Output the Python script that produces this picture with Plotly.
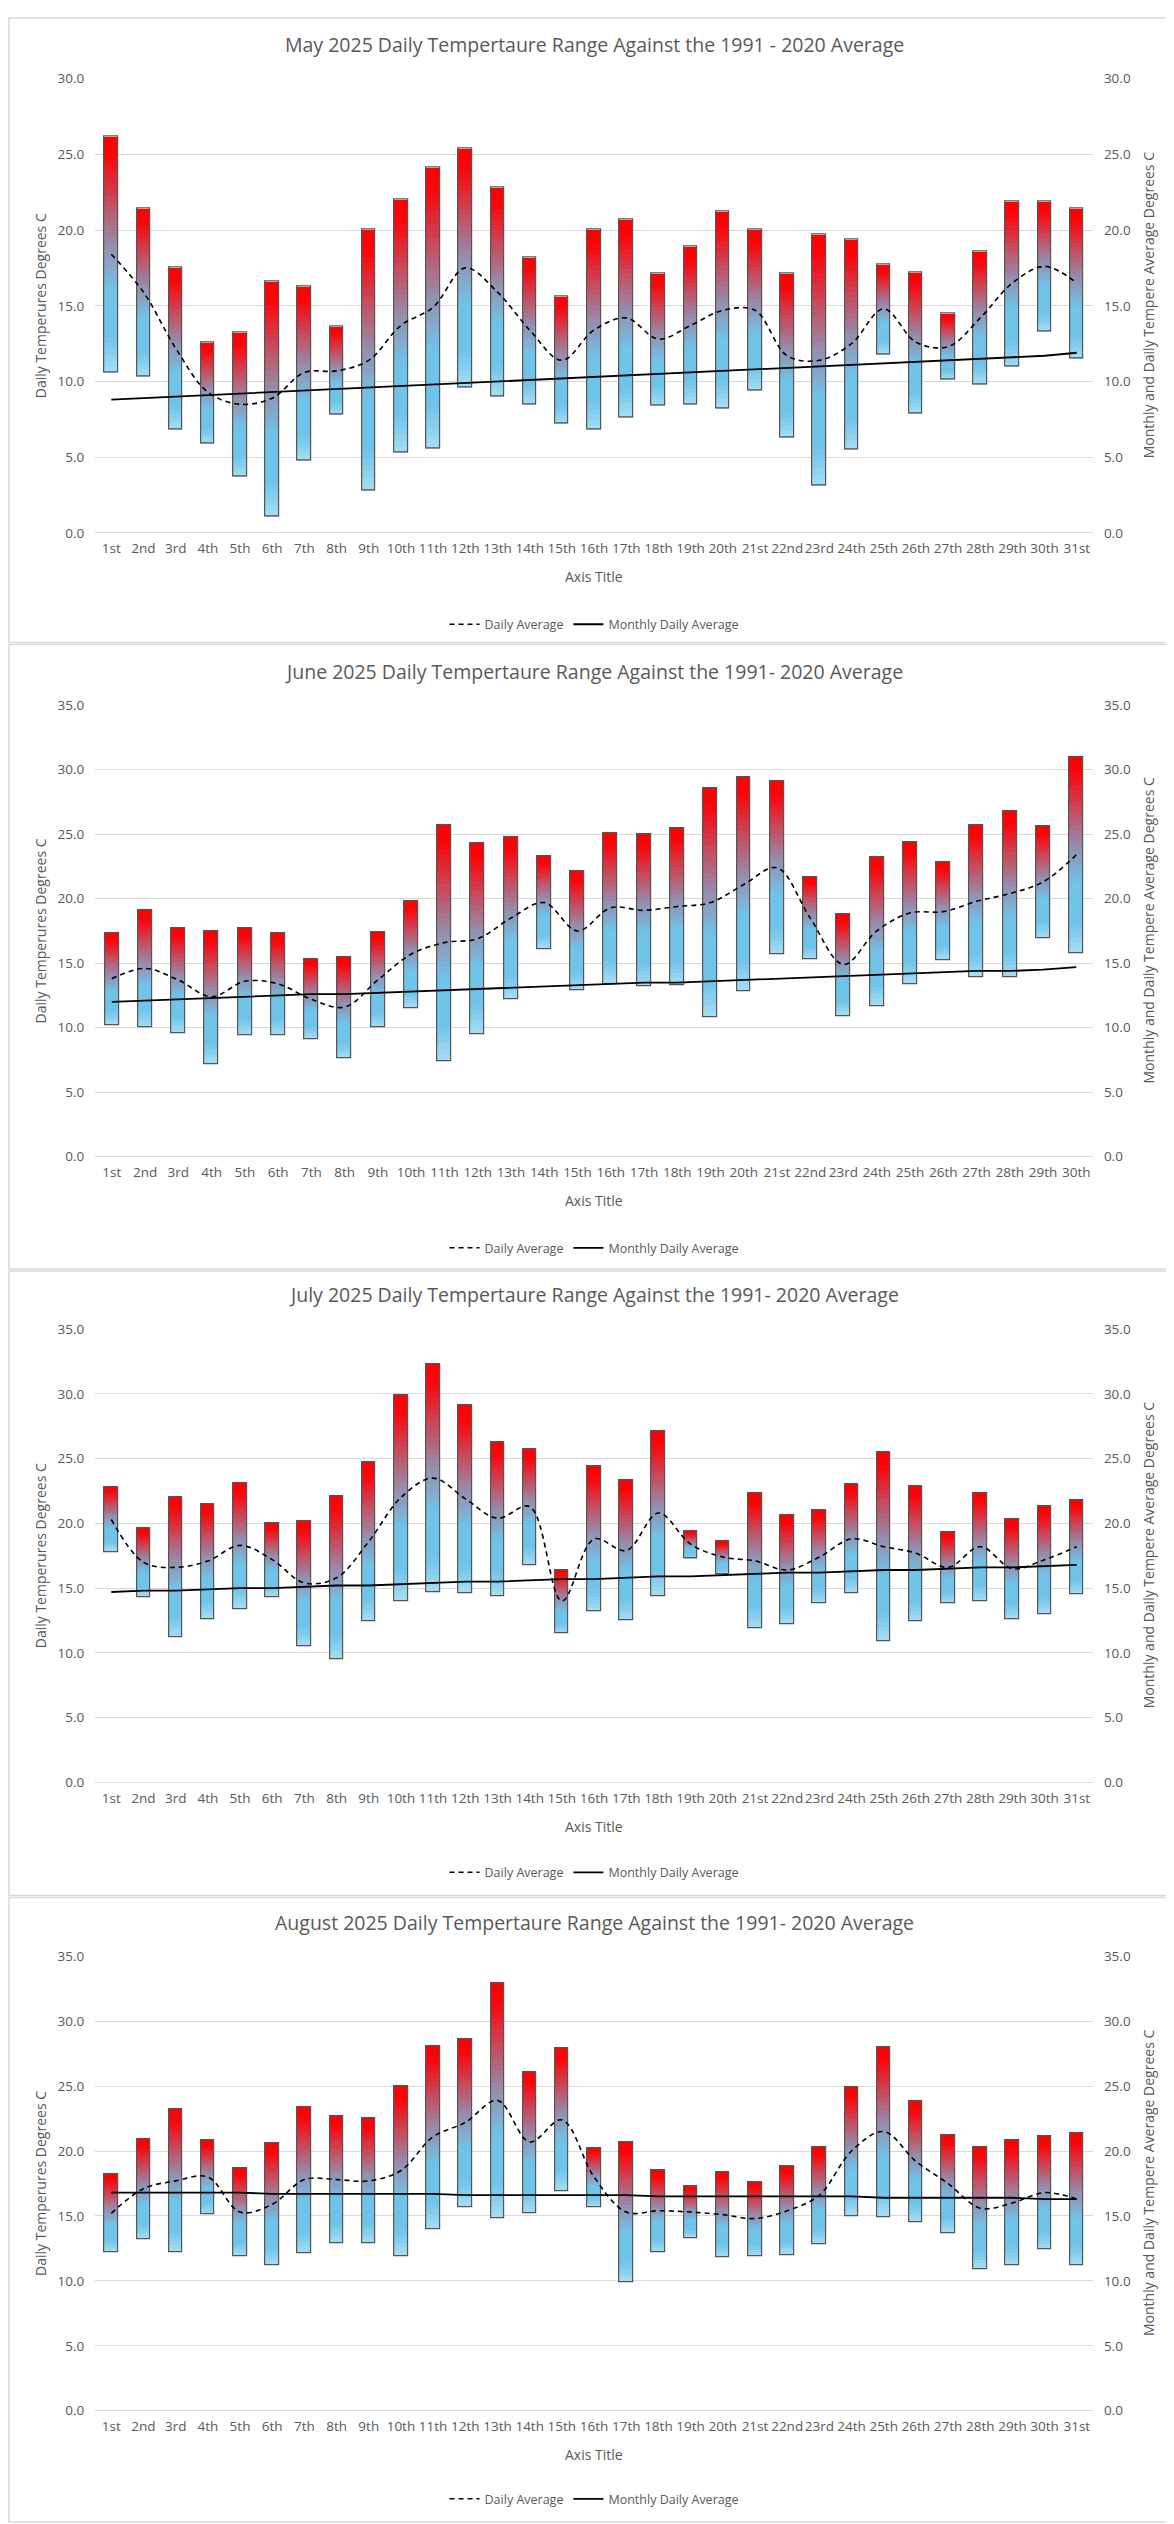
import plotly.graph_objects as go

# ---------------- data ----------------
days_31 = ["1st", "2nd", "3rd", "4th", "5th", "6th", "7th", "8th", "9th", "10th",
           "11th", "12th", "13th", "14th", "15th", "16th", "17th", "18th", "19th", "20th",
           "21st", "22nd", "23rd", "24th", "25th", "26th", "27th", "28th", "29th", "30th", "31st"]
days_30 = days_31[:30]

may_max = [26.2, 21.4, 17.5, 12.6, 13.2, 16.6, 16.3, 13.6, 20.0, 22.0, 24.1, 25.4, 22.8, 18.2, 15.6, 20.0,
           20.7, 17.1, 18.9, 21.2, 20.0, 17.1, 19.7, 19.4, 17.7, 17.2, 14.5, 18.6, 21.9, 21.9, 21.4]
may_min = [10.6, 10.3, 6.8, 5.9, 3.7, 1.1, 4.8, 7.8, 2.8, 5.3, 5.6, 9.6, 9.0, 8.5, 7.2, 6.8,
           7.6, 8.4, 8.5, 8.2, 9.4, 6.3, 3.1, 5.5, 11.8, 7.9, 10.1, 9.8, 11.0, 13.3, 11.5]
may_daily_avg = [18.4, 15.9, 12.2, 9.3, 8.5, 8.9, 10.6, 10.7, 11.4, 13.7, 14.9, 17.5, 15.9, 13.4, 11.4, 13.4,
                 14.2, 12.8, 13.7, 14.7, 14.7, 11.7, 11.4, 12.5, 14.8, 12.6, 12.3, 14.2, 16.5, 17.6, 16.5]
may_monthly_avg = [8.8, 8.9, 9.0, 9.1, 9.2, 9.3, 9.4, 9.5, 9.6, 9.7, 9.8, 9.9, 10.0, 10.1, 10.2, 10.3,
                   10.4, 10.5, 10.6, 10.7, 10.8, 10.9, 11.0, 11.1, 11.2, 11.3, 11.4, 11.5, 11.6, 11.7, 11.9]

jun_max = [17.3, 19.1, 17.7, 17.5, 17.7, 17.3, 15.3, 15.5, 17.4, 19.8, 25.7, 24.3, 24.8, 23.3, 22.1,
           25.1, 25.0, 25.5, 28.6, 29.4, 29.1, 21.7, 18.8, 23.2, 24.4, 22.8, 25.7, 26.8, 25.6, 31.0]
jun_min = [10.2, 10.0, 9.6, 7.2, 9.4, 9.4, 9.1, 7.6, 10.0, 11.5, 7.4, 9.5, 12.2, 16.1, 12.9,
           13.4, 13.2, 13.3, 10.8, 12.8, 15.7, 15.3, 10.9, 11.7, 13.4, 15.2, 13.9, 13.9, 16.9, 15.8]
jun_daily_avg = [13.8, 14.6, 13.7, 12.4, 13.6, 13.4, 12.2, 11.6, 13.7, 15.7, 16.6, 16.9, 18.5, 19.7, 17.5,
                 19.3, 19.1, 19.4, 19.7, 21.1, 22.4, 18.5, 14.9, 17.5, 18.9, 19.0, 19.8, 20.4, 21.3, 23.4]
jun_monthly_avg = [12.0, 12.1, 12.2, 12.3, 12.4, 12.5, 12.6, 12.6, 12.7, 12.8, 12.9, 13.0, 13.1, 13.2, 13.3,
                   13.4, 13.5, 13.5, 13.6, 13.7, 13.8, 13.9, 14.0, 14.1, 14.2, 14.3, 14.4, 14.4, 14.5, 14.7]

jul_max = [22.8, 19.6, 22.0, 21.5, 23.1, 20.0, 20.2, 22.1, 24.7, 29.9, 32.3, 29.1, 26.3, 25.7, 16.4, 24.4,
           23.3, 27.1, 19.4, 18.6, 22.3, 20.6, 21.0, 23.0, 25.5, 22.9, 19.3, 22.3, 20.3, 21.3, 21.8]
jul_min = [17.8, 14.3, 11.2, 12.6, 13.4, 14.3, 10.5, 9.5, 12.4, 14.0, 14.7, 14.6, 14.4, 16.8, 11.5, 13.2,
           12.5, 14.4, 17.3, 16.1, 11.9, 12.2, 13.8, 14.6, 10.9, 12.4, 13.8, 14.0, 12.6, 13.0, 14.5]
jul_daily_avg = [20.3, 17.0, 16.6, 17.1, 18.3, 17.2, 15.4, 15.8, 18.6, 22.0, 23.5, 21.9, 20.4, 21.3, 14.0, 18.8,
                 17.9, 20.8, 18.4, 17.4, 17.1, 16.4, 17.4, 18.8, 18.2, 17.7, 16.6, 18.2, 16.5, 17.2, 18.2]
jul_monthly_avg = [14.7, 14.8, 14.8, 14.9, 15.0, 15.0, 15.1, 15.2, 15.2, 15.3, 15.4, 15.5, 15.5, 15.6, 15.7, 15.7,
                   15.8, 15.9, 15.9, 16.0, 16.1, 16.2, 16.2, 16.3, 16.4, 16.4, 16.5, 16.6, 16.6, 16.7, 16.8]

aug_max = [18.2, 20.9, 23.2, 20.8, 18.7, 20.6, 23.4, 22.7, 22.5, 25.0, 28.1, 28.6, 32.9, 26.1, 27.9, 20.2,
           20.7, 18.5, 17.3, 18.4, 17.6, 18.8, 20.3, 24.9, 28.0, 23.8, 21.2, 20.3, 20.8, 21.1, 21.4]
aug_min = [12.2, 13.2, 12.2, 15.1, 11.9, 11.2, 12.1, 12.9, 12.9, 11.9, 14.0, 15.7, 14.8, 15.2, 16.9, 15.7,
           9.9, 12.2, 13.3, 11.8, 11.9, 12.0, 12.8, 15.0, 14.9, 14.5, 13.7, 10.9, 11.2, 12.4, 11.2]
aug_daily_avg = [15.2, 17.1, 17.7, 18.0, 15.3, 15.9, 17.8, 17.8, 17.7, 18.5, 21.1, 22.2, 23.9, 20.7, 22.4, 18.0,
                 15.3, 15.4, 15.3, 15.1, 14.8, 15.4, 16.6, 20.0, 21.5, 19.2, 17.5, 15.6, 16.0, 16.8, 16.3]
aug_monthly_avg = [16.8, 16.8, 16.8, 16.8, 16.8, 16.7, 16.7, 16.7, 16.7, 16.7, 16.7, 16.6, 16.6, 16.6, 16.6, 16.6,
                   16.6, 16.5, 16.5, 16.5, 16.5, 16.5, 16.5, 16.5, 16.4, 16.4, 16.4, 16.4, 16.4, 16.3, 16.3]

titles = ["May 2025 Daily Tempertaure Range Against the 1991 - 2020 Average",
          "June 2025 Daily Tempertaure Range Against the 1991- 2020 Average",
          "July 2025 Daily Tempertaure Range Against the 1991- 2020 Average",
          "August 2025 Daily Tempertaure Range Against the 1991- 2020 Average"]
y_max = [30, 35, 35, 35]

left_title = "Daily Temperures Degrees C"
right_title = "Monthly and Daily Tempere Average Degrees C"
x_title = "Axis Title"

# ---------------- layout constants (pixels) ----------------
W, H = 1174, 2524
PX_L, PX_R = 87.2, 1084.9
panel_top = [0, 631, 1262, 1893]
plot_top = [62.0, 693.2, 1321.7, 1953.2]
plot_bot = [519.7, 1147.9, 1777.9, 2410.9]
title_y = [28, 659, 1287, 1919]
xtitle_y = [564, 1192, 1822, 2455]
legend_y = [612, 1240, 1869, 2500]

GREY = "#595959"
FONT = "Open Sans"

def fx(px):
    return px / W

def fy(py):
    return 1 - py / H

# gradient stops (fraction from bottom of bar -> rgb)
stops = [(0.0, (168, 221, 243)), (0.15, (112, 196, 233)), (0.35, (112, 196, 233)),
         (0.55, (150, 140, 170)), (0.92, (250, 5, 10)), (1.0, (255, 0, 0))]

def grad(f):
    for (a, ca), (b, cb) in zip(stops[:-1], stops[1:]):
        if a <= f <= b:
            t = (f - a) / (b - a) if b > a else 0
            c = [round(ca[k] + (cb[k] - ca[k]) * t) for k in range(3)]
            return f"rgb({c[0]},{c[1]},{c[2]})"
    return "rgb(255,0,0)"

panels = [
    (days_31, may_max, may_min, may_daily_avg, may_monthly_avg),
    (days_30, jun_max, jun_min, jun_daily_avg, jun_monthly_avg),
    (days_31, jul_max, jul_min, jul_daily_avg, jul_monthly_avg),
    (days_31, aug_max, aug_min, aug_daily_avg, aug_monthly_avg),
]

fig = go.Figure()
N = 40
BW = 0.42
annotations = []
shapes = []
layout = {}

for p, (cats, hi, lo, davg, mavg) in enumerate(panels):
    i = p + 1
    xa = f"x{i}" if i > 1 else "x"
    ya = f"y{i}" if i > 1 else "y"
    ya2 = f"y{i + 4}"
    leg = "legend" if i == 1 else f"legend{i}"
    span = [h - l for h, l in zip(hi, lo)]
    # gradient bars built from stacked slices
    for k in range(N):
        f = (k + 0.5) / N
        seg = [s / N * (1.6 if k < N - 1 else 1.0) for s in span]
        base = [l + s * k / N for l, s in zip(lo, span)]
        fig.add_trace(go.Bar(x=cats, y=seg, base=base, width=BW, xaxis=xa, yaxis=ya,
                             marker=dict(color=grad(f), line=dict(width=0)),
                             showlegend=False, hoverinfo="skip"))
    # outline
    fig.add_trace(go.Bar(x=cats, y=span, base=lo, width=BW, xaxis=xa, yaxis=ya,
                         marker=dict(color="rgba(0,0,0,0)", line=dict(color="#555555", width=1.2)),
                         showlegend=False, hoverinfo="skip"))
    fig.add_trace(go.Scatter(x=cats, y=davg, mode="lines", name="Daily Average",
                             line=dict(color="black", width=1.6, dash="5px,4px", shape="spline", smoothing=1.0),
                             xaxis=xa, yaxis=ya2, legend=leg, hoverinfo="skip"))
    fig.add_trace(go.Scatter(x=cats, y=mavg, mode="lines", name="Monthly Daily Average",
                             line=dict(color="black", width=1.8),
                             xaxis=xa, yaxis=ya2, legend=leg, hoverinfo="skip"))

    dom_y = [fy(plot_bot[p]), fy(plot_top[p])]
    xkey = "xaxis" if i == 1 else f"xaxis{i}"
    ykey = "yaxis" if i == 1 else f"yaxis{i}"
    layout[xkey] = dict(domain=[fx(PX_L), fx(PX_R)], anchor=ya, type="category",
                        categoryorder="array", categoryarray=cats,
                        range=[-0.5, len(cats) - 0.5], showgrid=False, showline=False,
                        zeroline=False, ticks="", ticklabelstandoff=6, tickangle=0,
                        tickfont=dict(family=FONT, size=13.5, color=GREY), fixedrange=True)
    axis_common = dict(domain=dom_y, range=[0, y_max[p]], dtick=5, tick0=0, tickformat=".1f",
                       tickfont=dict(family=FONT, size=13.5, color=GREY), ticks="",
                       ticklabelstandoff=10, showline=False, fixedrange=True)
    layout[ykey] = dict(anchor=xa, showgrid=True, gridcolor="#D9D9D9", gridwidth=1,
                        zeroline=True, zerolinecolor="#D9D9D9", zerolinewidth=1, side="left",
                        **axis_common)
    layout[f"yaxis{i + 4}"] = dict(anchor=xa, overlaying=ya, side="right", showgrid=False,
                                   zeroline=False, **axis_common)
    layout[leg] = dict(orientation="h", x=fx((PX_L + PX_R) / 2), xanchor="center",
                       y=fy(legend_y[p]), yanchor="middle", bgcolor="rgba(0,0,0,0)",
                       font=dict(family=FONT, size=12.5, color=GREY), itemwidth=30,
                       tracegroupgap=0)

    annotations.append(dict(text=titles[p], x=fx((PX_L + PX_R) / 2), y=fy(title_y[p]),
                            xref="paper", yref="paper", showarrow=False, xanchor="center",
                            yanchor="middle", font=dict(family=FONT, size=19.5, color=GREY)))
    annotations.append(dict(text=x_title, x=fx((PX_L + PX_R) / 2), y=fy(xtitle_y[p]),
                            xref="paper", yref="paper", showarrow=False, xanchor="center",
                            yanchor="middle", font=dict(family=FONT, size=14, color=GREY)))
    mid = (plot_top[p] + plot_bot[p]) / 2
    annotations.append(dict(text=left_title, x=fx(32.5), y=fy(mid), xref="paper", yref="paper",
                            showarrow=False, textangle=-90, xanchor="center", yanchor="middle",
                            font=dict(family=FONT, size=14, color=GREY)))
    annotations.append(dict(text=right_title, x=fx(1140.5), y=fy(mid), xref="paper", yref="paper",
                            showarrow=False, textangle=-90, xanchor="center", yanchor="middle",
                            font=dict(family=FONT, size=14, color=GREY)))
    shapes.append(dict(type="rect", xref="paper", yref="paper",
                       x0=fx(1), x1=fx(W - 2), y0=fy(panel_top[p] + 630), y1=fy(panel_top[p] + 1),
                       line=dict(color="#D9D9D9", width=1.5), fillcolor="rgba(0,0,0,0)", layer="below"))

fig.update_layout(
    width=W, height=H,
    margin=dict(l=0, r=0, t=0, b=0),
    paper_bgcolor="white", plot_bgcolor="white",
    barmode="overlay", bargap=0,
    annotations=annotations, shapes=shapes,
    font=dict(family=FONT, color=GREY),
    **layout,
)

fig.write_html("out.html", config={"displayModeBar": False})
